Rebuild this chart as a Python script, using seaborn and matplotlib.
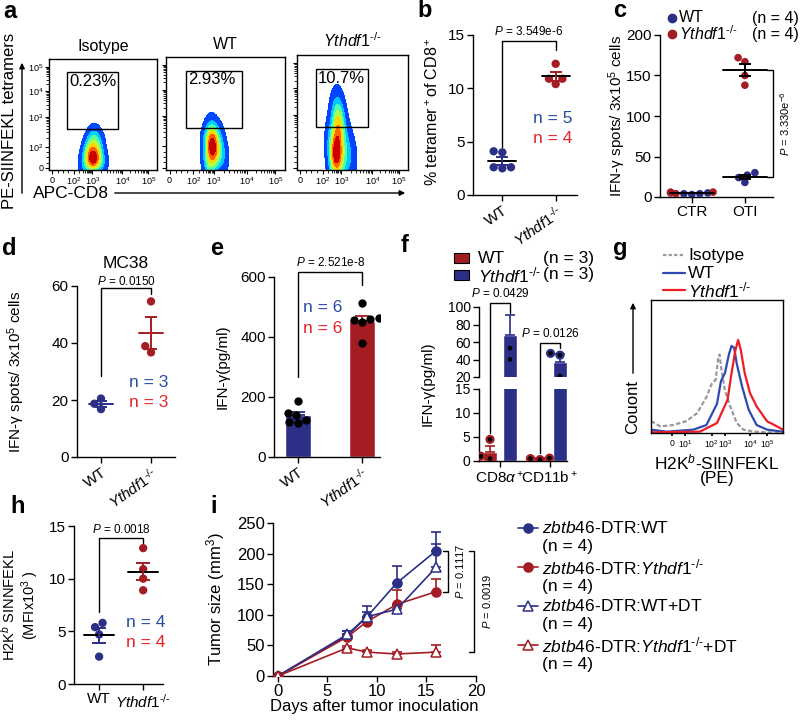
import numpy as np
import pandas as pd
import matplotlib
matplotlib.use('Agg')
import matplotlib.pyplot as plt
import seaborn as sns
from matplotlib.lines import Line2D
from matplotlib.patches import Rectangle, FancyArrowPatch
from matplotlib.ticker import FixedLocator
from matplotlib.colors import LinearSegmentedColormap

sns.set_theme(style='ticks')
plt.rcParams['font.family'] = ['Liberation Sans', 'DejaVu Sans']
plt.rcParams['mathtext.fontset'] = 'custom'
plt.rcParams['mathtext.rm'] = 'Liberation Sans'
plt.rcParams['mathtext.it'] = 'Liberation Sans:italic'
plt.rcParams['mathtext.bf'] = 'Liberation Sans:bold'
for k in ['xtick.color', 'ytick.color', 'axes.edgecolor', 'text.color', 'axes.labelcolor']:
    plt.rcParams[k] = 'black'
plt.rcParams['axes.linewidth'] = 1.0

NAVY = '#2b2f86'
DRED = '#a31d23'
NBLUE = '#2a4d9f'
NRED = '#e3262b'
LBLUE = '#2f4bb0'
LRED = '#ee1c24'
YTH = r'$\it{Ythdf1}^{‐/‐}$'
JET = LinearSegmentedColormap.from_list(
    'jet_cut', matplotlib.colormaps['jet'](np.linspace(0.13, 1.0, 256)))

# ---- data ----
# a: flow density (gated events, axis fractions) and gate percentages
flow_titles = ['Isotype', 'WT', YTH]
flow_pct = ['0.23%', '2.93%', '10.7%']
iso_x = [0.41, 0.40, 0.42, 0.39, 0.43, 0.41, 0.37, 0.45, 0.35, 0.47, 0.33, 0.49, 0.38, 0.44,
         0.40, 0.42, 0.36, 0.46, 0.41]
iso_y = [0.09, 0.07, 0.10, 0.12, 0.08, 0.04, 0.14, 0.13, 0.08, 0.10, 0.05, 0.06, 0.22, 0.20,
         0.28, 0.30, 0.18, 0.24, 0.16]
wt_x = [0.39, 0.38, 0.40, 0.39, 0.37, 0.41, 0.39, 0.35, 0.43, 0.40, 0.36, 0.46, 0.34, 0.42,
        0.38, 0.44, 0.37, 0.40, 0.48, 0.36]
wt_y = [0.22, 0.18, 0.25, 0.15, 0.20, 0.21, 0.28, 0.10, 0.14, 0.33, 0.06, 0.20, 0.25, 0.08,
        0.36, 0.30, 0.02, 0.12, 0.10, 0.30]
yth_x = [0.36, 0.35, 0.37, 0.36, 0.34, 0.38, 0.36, 0.32, 0.41, 0.37, 0.34, 0.45, 0.31, 0.38,
         0.36, 0.49, 0.35, 0.37, 0.36, 0.40, 0.43, 0.33, 0.39]
yth_y = [0.14, 0.11, 0.17, 0.20, 0.13, 0.09, 0.25, 0.18, 0.12, 0.32, 0.05, 0.22, 0.28, 0.38,
         0.44, 0.10, 0.48, 0.52, 0.02, 0.34, 0.06, 0.08, 0.41]
flow_labels = ['0', '$10^2$', '$10^3$', '$10^4$', '$10^5$']

# b
b_wt = [4.1, 4.0, 2.6, 2.5, 2.6]
b_yth = [12.3, 10.9, 10.9, 10.4]
# c
c_ctr_wt = [4, 3, 5, 4]
c_ctr_yth = [5, 6, 4, 6]
c_oti_wt = [30, 27, 24, 18]
c_oti_yth = [172, 167, 150, 138]
# d
d_wt = [20.5, 18.7, 16.8]
d_yth = [54.6, 38.9, 36.7]
# e
e_wt = [187, 148, 140, 125, 118, 113]
e_yth = [514, 462, 456, 450, 460, 380]
# f
f_cats = ['CD8', 'CD11b']
f_ticklabels = [r'CD8$\alpha^+$', r'CD11b$^+$']
f_wt_mean = [1.9, 0.4]
f_wt_err = [1.2, 0.3]
f_yth_mean = [68, 37]
f_yth_err = [23, 9]
f_wt_pts = [[4.5, 1.0, 0.5], [0.6, 0.3, 0.5]]
f_yth_pts = [[53, 40], [47, 45, 21]]
# g: histogram curves (axis fractions)
g_iso_x = [0.0, 0.07, 0.17, 0.27, 0.35, 0.42, 0.46, 0.49, 0.51, 0.52, 0.53, 0.56, 0.60, 0.65, 0.70, 0.78, 1.0]
g_iso_y = [0.09, 0.05, 0.06, 0.09, 0.15, 0.27, 0.37, 0.40, 0.57, 0.59, 0.50, 0.32, 0.20, 0.075, 0.025, 0.01, 0.0]
g_wt_x = [0.0, 0.12, 0.32, 0.42, 0.50, 0.53, 0.56, 0.59, 0.61, 0.63, 0.65, 0.69, 0.74, 0.80, 0.88, 1.0]
g_wt_y = [0.025, 0.01, 0.025, 0.06, 0.22, 0.39, 0.45, 0.59, 0.655, 0.64, 0.52, 0.35, 0.175, 0.06, 0.025, 0.01]
g_yth_x = [0.0, 0.37, 0.50, 0.58, 0.61, 0.64, 0.66, 0.68, 0.71, 0.75, 0.80, 0.88, 0.93, 1.0]
g_yth_y = [0.005, 0.01, 0.075, 0.25, 0.45, 0.625, 0.70, 0.625, 0.45, 0.30, 0.20, 0.0875, 0.0625, 0.025]
g_labels = ['0', '$10^1$', '$10^2$', '$10^3$', '$10^4$', '$10^5$']
# h
h_wt = [5.4, 5.8, 4.7, 2.6]
h_yth = [12.9, 10.9, 10.0, 8.9]
# i
i_days = [0, 7, 9, 12, 16]
i_wt = [0, 66, 97, 152, 205]
i_wt_err = [0, 8, 17, 27, 30]
i_yth = [0, 64, 89, 117, 138]
i_yth_err = [0, 4, 5, 23, 21]
i_wtdt = [0, 68, 97, 109, 178]
i_wtdt_err = [0, 5, 8, 6, 38]
i_ythdt = [0, 46, 39, 36, 39]
i_ythdt_err = [0, 3, 4, 4, 11]
i_names = [r'$\it{zbtb46}$-DTR:WT', r'$\it{zbtb46}$-DTR:' + YTH,
           r'$\it{zbtb46}$-DTR:WT+DT', r'$\it{zbtb46}$-DTR:' + YTH + '+DT']

W, H = 800, 720
fig = plt.figure(figsize=(8, 7.2), dpi=100)


def box(l, t, r, b):
    return fig.add_axes([l / W, 1 - b / H, (r - l) / W, (b - t) / H])


def ftext(x, y, s, **kw):
    fig.text(x / W, 1 - y / H, s, **kw)


def fline(xs, ys, **kw):
    fig.add_artist(Line2D([x / W for x in xs], [1 - y / H for y in ys],
                          transform=fig.transFigure, **kw))


def farrow(x0, y0, x1, y1):
    fig.add_artist(FancyArrowPatch((x0 / W, 1 - y0 / H), (x1 / W, 1 - y1 / H),
                                   transform=fig.transFigure, arrowstyle='-|>',
                                   mutation_scale=8, lw=1, color='black'))


def mean_sem(ax, x, vals, lcolor, ecolor, hw, cap, lw=1.4):
    v = np.asarray(vals, float)
    m = v.mean()
    s = v.std(ddof=1) / np.sqrt(len(v))
    ax.plot([x - hw, x + hw], [m, m], color=lcolor, lw=lw, zorder=5)
    ax.errorbar([x], [m], yerr=[[s], [s]], fmt='none', ecolor=ecolor,
                elinewidth=lw, capsize=cap, capthick=lw, zorder=5)


def bracket(ax, x1, x2, ytop, y1, y2, text, dy, size=8.5):
    ax.plot([x1, x1, x2, x2], [y1, ytop, ytop, y2], color='black', lw=1, clip_on=False)
    ax.text((x1 + x2) / 2, ytop + dy, text, ha='center', va='center', fontsize=size)


def style(ax, size=11):
    sns.despine(ax=ax)
    ax.tick_params(length=4, width=1, labelsize=size, pad=2)


def swarm2(ax, a, b, pal, size):
    df = pd.DataFrame({'g': ['A'] * len(a) + ['B'] * len(b), 'v': a + b})
    sns.swarmplot(data=df, x='g', y='v', hue='g', palette=pal, size=size,
                  ax=ax, legend=False, zorder=3)


# ---- panel labels ----
for lab, x, y in [('a', 3, 18), ('b', 417, 17), ('c', 613, 17), ('d', 2, 255), ('e', 210, 255),
                  ('f', 401, 252), ('g', 613, 255), ('h', 10, 513), ('i', 210, 513)]:
    ftext(x, y, lab, fontsize=17, weight='bold', va='baseline')

# ---- a ----
FX = [0.03, 0.23, 0.40, 0.68, 0.92]
FY = [0.02, 0.21, 0.48, 0.71, 0.93]
minx, miny = [], []
for i in range(1, 4):
    minx += [FX[i] + (FX[i + 1] - FX[i]) * np.log10(k) for k in range(2, 10)]
    miny += [FY[i] + (FY[i + 1] - FY[i]) * np.log10(k) for k in range(2, 10)]
minx += [FX[0] + (FX[1] - FX[0]) * k / 4 for k in (1, 2, 3)]
miny += [FY[0] + (FY[1] - FY[0]) * k / 4 for k in (1, 2, 3)]
flow_boxes = [(49, 59, 157, 170), (166, 57, 285, 170), (297, 55, 408, 170)]
flow_pts = [(iso_x, iso_y), (wt_x, wt_y), (yth_x, yth_y)]
for k, (bx, (px, py)) in enumerate(zip(flow_boxes, flow_pts)):
    ax = box(*bx)
    sns.kdeplot(x=px, y=py, ax=ax, fill=True, cmap=JET, levels=8, thresh=0.03, bw_adjust=1.4)
    ax.set_xlim(0, 1)
    ax.set_ylim(0, 1)
    ax.add_patch(Rectangle((0.17, 0.37), 0.47, 0.51, fill=False, lw=1, ec='black', zorder=4))
    ax.text(0.185, 0.76, flow_pct[k], fontsize=12, zorder=6)
    ax.set_xticks(FX)
    ax.set_xticklabels(flow_labels, fontsize=6.5)
    ax.set_yticks(FY)
    ax.set_yticklabels(flow_labels if k == 0 else [], fontsize=6.5)
    ax.xaxis.set_minor_locator(FixedLocator(minx))
    ax.yaxis.set_minor_locator(FixedLocator(miny))
    ax.tick_params(which='major', length=3, width=0.8, pad=1)
    ax.tick_params(which='minor', length=2, width=0.6)
    ax.set_xlabel('')
    ax.set_ylabel('')
    ax.set_title(flow_titles[k], fontsize=11.5, pad=6)
ftext(10, 121, 'PE-SIINFEKL tetramers', rotation=90, ha='center', va='center', fontsize=12)
farrow(22, 196, 22, 60)
ftext(33, 194, 'APC-CD8', va='center', fontsize=12.5)
farrow(112, 193, 408, 193)

# ---- b ----
ax = box(473, 35, 577, 195)
swarm2(ax, b_wt, b_yth, [NAVY, DRED], 6)
mean_sem(ax, 0, b_wt, 'black', NAVY, 0.26, 4.5)
mean_sem(ax, 1, b_yth, 'black', DRED, 0.26, 4.5)
ax.set_xlim(-0.55, 1.4)
ax.set_ylim(0, 15)
ax.set_yticks([0, 5, 10, 15])
ax.set_xticks([0, 1])
ax.set_xticklabels(['WT', YTH], rotation=35, ha='right', rotation_mode='anchor')
ax.set_xlabel('')
ax.set_ylabel(r'% tetramer$^+$of CD8$^+$', fontsize=11.5)
ax.yaxis.set_label_coords(-0.31, 0.52)
style(ax)
bracket(ax, 0, 1, 14.45, 4.5, 13.6, r'$\it{P}$ = 3.549e-6', 0.85)
ax.text(0.94, 7.2, 'n = 5', color=NBLUE, fontsize=12.5, ha='center', va='center')
ax.text(0.94, 5.3, 'n = 4', color=NRED, fontsize=12.5, ha='center', va='center')

# ---- c ----
ax = box(660, 35, 773, 197)
dfc = pd.DataFrame({
    'cat': ['CTR'] * 8 + ['OTI'] * 8,
    'g': ['WT'] * 4 + ['Y'] * 4 + ['WT'] * 4 + ['Y'] * 4,
    'v': c_ctr_wt + c_ctr_yth + c_oti_wt + c_oti_yth})
sns.swarmplot(data=dfc, x='cat', y='v', hue='g', hue_order=['WT', 'Y'], palette=[NAVY, DRED],
              size=5.5, ax=ax, legend=False, zorder=3)
mean_sem(ax, 0, c_ctr_wt + c_ctr_yth, 'black', 'black', 0.42, 0)
mean_sem(ax, 1, c_oti_wt, 'black', 'black', 0.42, 4.5)
mean_sem(ax, 1, c_oti_yth, 'black', 'black', 0.42, 4.5)
ax.set_xlim(-0.6, 1.53)
ax.set_ylim(0, 200)
ax.set_yticks([0, 50, 100, 150, 200])
ax.set_xticks([0, 1])
ax.set_xticklabels(['CTR', 'OTI'], fontsize=12)
ax.set_xlabel('')
ax.set_ylabel(r'IFN-γ spots/ 3x10$^5$ cells', fontsize=11)
ax.yaxis.set_label_coords(-0.28, 0.5)
style(ax)
m_hi = np.mean(c_oti_yth)
m_lo = np.mean(c_oti_wt)
ax.plot([1.42, 1.53, 1.53, 1.42], [m_hi, m_hi, m_lo, m_lo], color='black', lw=1, clip_on=False)
ax.text(1.76, (m_hi + m_lo) / 2, r'$\it{P}$ = 3.330e$^{-6}$', rotation=90, fontsize=8,
        ha='center', va='center')
for yy, col, lab in [(18, NAVY, 'WT'), (34, DRED, YTH)]:
    fig.add_artist(Line2D([672 / W], [1 - yy / H], marker='o', ms=6, color=col, mec=col,
                          transform=fig.transFigure))
    ftext(679, yy, lab, fontsize=11.5, va='center')
    ftext(752, yy, '(n = 4)', fontsize=11.5, va='center')

# ---- d ----
ax = box(77, 286, 175, 457)
swarm2(ax, d_wt, d_yth, [NAVY, DRED], 6)
mean_sem(ax, 0, d_wt, NAVY, NAVY, 0.24, 4)
mean_sem(ax, 1, d_yth, DRED, DRED, 0.24, 4)
ax.set_xlim(-0.48, 1.48)
ax.set_ylim(0, 60)
ax.set_yticks([0, 20, 40, 60])
ax.set_xticks([0, 1])
ax.set_xticklabels(['WT', YTH], rotation=35, ha='right', rotation_mode='anchor')
ax.set_xlabel('')
ax.set_ylabel(r'IFN-γ spots/ 3x10$^5$ cells', fontsize=11)
ax.yaxis.set_label_coords(-0.51, 0.5)
style(ax)
bracket(ax, 0, 1, 59.3, 28.5, 57.3, r'$\it{P}$ = 0.0150', 2.4)
ax.text(0.95, 26, 'n = 3', color=NBLUE, fontsize=12.5, ha='center', va='center')
ax.text(0.95, 19, 'n = 3', color=NRED, fontsize=12.5, ha='center', va='center')
ftext(126, 264, 'MC38', ha='center', va='center', fontsize=12.5)

# ---- e ----
ax = box(274, 277, 380, 457)
dfe = pd.DataFrame({'g': ['WT'] * len(e_wt) + ['Y'] * len(e_yth), 'v': e_wt + e_yth})
sns.barplot(data=dfe, x='g', y='v', hue='g', palette=[NAVY, DRED], width=0.41,
            errorbar=None, saturation=1, legend=False, ax=ax)
for x, vals, col in [(0, e_wt, NAVY), (1, e_yth, DRED)]:
    v = np.asarray(vals, float)
    ax.errorbar([x], [v.mean()], yerr=[[0], [v.std(ddof=1) / np.sqrt(len(v))]], fmt='none',
                ecolor=col, elinewidth=1.3, capsize=5, capthick=1.3, zorder=2)
sns.swarmplot(data=dfe, x='g', y='v', color='black', size=6, ax=ax, zorder=4)
ax.set_xlim(-0.375, 1.28)
ax.set_ylim(0, 600)
ax.set_yticks([0, 200, 400, 600])
ax.set_xticks([0, 1])
ax.set_xticklabels(['WT', YTH], rotation=35, ha='right', rotation_mode='anchor')
ax.set_xlabel('')
ax.set_ylabel('IFN-γ(pg/ml)', fontsize=11)
ax.yaxis.set_label_coords(-0.415, 0.5)
style(ax)
bracket(ax, 0, 1, 617, 267, 573, r'$\it{P}$ = 2.521e-8', 33)
ax.text(0.38, 497, 'n = 6', color=NBLUE, fontsize=12.5, ha='center', va='center')
ax.text(0.38, 427, 'n = 6', color=NRED, fontsize=12.5, ha='center', va='center')

# ---- f ----
f_top = box(479, 307, 567, 377)
f_bot = box(479, 389, 567, 461)
dff = pd.DataFrame({'cat': f_cats * 2, 'g': ['WT'] * 2 + ['Y'] * 2,
                    'v': f_wt_mean + f_yth_mean, 'e': f_wt_err + f_yth_err})
rows = []
for c, pts in zip(f_cats, f_wt_pts):
    rows += [(c, 'WT', p) for p in pts]
for c, pts in zip(f_cats, f_yth_pts):
    rows += [(c, 'Y', p) for p in pts]
dfp = pd.DataFrame(rows, columns=['cat', 'g', 'v'])
for ax, lo, hi in [(f_top, 20, 100), (f_bot, 0, 15)]:
    sns.barplot(data=dff, x='cat', y='v', hue='g', order=f_cats, hue_order=['WT', 'Y'],
                palette=[DRED, NAVY], width=0.8, gap=0.3, errorbar=None, saturation=1,
                legend=False, ax=ax)
    for p, m, e, col in zip(ax.patches[:4], dff['v'], dff['e'], [DRED, DRED, NAVY, NAVY]):
        ax.errorbar([p.get_x() + p.get_width() / 2], [m], yerr=[[0], [e]], fmt='none',
                    ecolor=col, elinewidth=1.2, capsize=3.5, capthick=1.2, zorder=2)
    sub = dfp[(dfp['v'] >= lo) & (dfp['v'] <= hi)]
    n_before = len(ax.collections)
    sns.swarmplot(data=sub, x='cat', y='v', hue='g', order=f_cats, hue_order=['WT', 'Y'],
                  palette=[DRED, NAVY], dodge=True, size=5, linewidth=1.6,
                  legend=False, ax=ax, zorder=4)
    # coloured ring with a dark centre, as in the reference
    for coll in ax.collections[n_before:]:
        fc = coll.get_facecolors()
        if len(fc):
            coll.set_edgecolors(fc)
            coll.set_facecolors('black')
    ax.set_xlim(-0.42, 1.34)
    ax.set_ylim(lo, hi)
    ax.set_xlabel('')
    ax.set_ylabel('')
    style(ax, 10)
f_top.set_yticks([20, 40, 60, 80, 100])
f_top.spines['bottom'].set_visible(False)
f_top.tick_params(axis='x', bottom=False, labelbottom=False)
f_bot.set_yticks([0, 5, 10, 15])
f_bot.set_xticks([0, 1])
f_bot.set_xticklabels(f_ticklabels, fontsize=11)
ftext(428, 384, 'IFN-γ(pg/ml)', rotation=90, ha='center', va='center', fontsize=11)


def to_px(ax, x, y):
    d = ax.transData.transform((x, y))
    return d[0], H - d[1]


bars = f_top.patches[:4]
bx = [p.get_x() + p.get_width() / 2 for p in bars]
for (x1, x2, ytop, ax1, y1, ax2, y2, txt) in [
        (bx[0], bx[2], 104.6, f_bot, 5.8, f_top, 93, r'$\it{P}$ = 0.0429'),
        (bx[1], bx[3], 58.9, f_bot, 1.7, f_top, 53, r'$\it{P}$ = 0.0126')]:
    _, ty = to_px(f_top, x1, ytop)
    px1, py1 = to_px(ax1, x1, y1)
    px2, py2 = to_px(ax2, x2, y2)
    fline([px1, px1, px2, px2], [py1, ty, ty, py2], color='black', lw=1)
    ftext((px1 + px2) / 2, ty - 9, txt, ha='center', va='center', fontsize=8.5)
for yy, col, lab in [(258, DRED, 'WT'), (275, NAVY, YTH)]:
    fig.add_artist(Rectangle((454 / W, 1 - (yy + 5) / H), 15 / W, 10 / H, fc=col, ec='black',
                             lw=0.8, transform=fig.transFigure))
    ftext(478, yy, lab, fontsize=12.5, va='center')
    ftext(543, yy, '(n = 3)', fontsize=12.5, va='center')

# ---- g ----
ax = box(651, 300, 783, 433)
sns.lineplot(x=g_iso_x, y=g_iso_y, ax=ax, color='#9a9a9a', lw=1.6, linestyle=(0, (2, 1)))
sns.lineplot(x=g_wt_x, y=g_wt_y, ax=ax, color=LBLUE, lw=1.6)
sns.lineplot(x=g_yth_x, y=g_yth_y, ax=ax, color=LRED, lw=1.6)
ax.set_xlim(0, 1)
ax.set_ylim(0, 1)
ax.set_yticks([])
ax.set_xticks([0.16, 0.26, 0.46, 0.56, 0.75, 0.88])
ax.set_xticklabels(g_labels, fontsize=6.2)
ax.tick_params(axis='x', length=2, pad=2)
ftext(633, 407, 'Couont', rotation=90, ha='center', va='center', fontsize=12)
farrow(633, 376, 633, 300)
ftext(717, 462, r'H2K$^b$-SIINFEKL', ha='center', va='center', fontsize=12.5)
ftext(717, 479, '(PE)', ha='center', va='center', fontsize=12.5)
for yy, col, ls, lab in [(255, '#9a9a9a', (0, (1.5, 1)), 'Isotype'), (273, LBLUE, '-', 'WT'),
                         (290, LRED, '-', YTH)]:
    fline([663, 685], [yy, yy], color=col, lw=1.6, linestyle=ls)
    ftext(688, yy, lab, fontsize=12.5, va='center')

# ---- h ----
ax = box(74, 526, 163, 684)
swarm2(ax, h_wt, h_yth, [NAVY, DRED], 6)
mean_sem(ax, 0, h_wt, 'black', NAVY, 0.34, 5)
mean_sem(ax, 1, h_yth, 'black', DRED, 0.34, 5)
ax.set_xlim(-0.57, 1.45)
ax.set_ylim(0, 15)
ax.set_yticks([0, 5, 10, 15])
ax.set_xticks([0, 1])
ax.set_xticklabels(['WT', YTH], fontsize=12)
ax.set_xlabel('')
ax.set_ylabel('H2K$^b$ SINNFEKL\n(MFIx10$^3$ )', fontsize=10.5, linespacing=1.1)
ax.yaxis.set_label_coords(-0.37, 0.5)
style(ax)
bracket(ax, 0, 1, 13.9, 6.8, 13.4, r'$\it{P}$ = 0.0018', 0.8)
ax.text(1.05, 5.8, 'n = 4', color=NBLUE, fontsize=12.5, ha='center', va='center')
ax.text(1.05, 3.9, 'n = 4', color=NRED, fontsize=12.5, ha='center', va='center')

# ---- i ----
ax = box(273, 523, 476, 676)
series = [(i_wt, i_wt_err, NAVY, 'o', NAVY), (i_yth, i_yth_err, DRED, 'o', DRED),
          (i_wtdt, i_wtdt_err, NAVY, '^', 'white'), (i_ythdt, i_ythdt_err, DRED, '^', 'white')]
zeros = [0] * len(i_days)
for vals, err, col, mk, fc in series:
    ax.errorbar(i_days, vals, yerr=[zeros, err], fmt='none', ecolor=col, elinewidth=1.2,
                capsize=3.5, capthick=1.2, zorder=2)
    sns.lineplot(x=i_days, y=vals, ax=ax, color=col, lw=1.2, marker=mk, markersize=6.5,
                 markerfacecolor=fc, markeredgecolor=col, markeredgewidth=1.1, zorder=3)
ax.set_xlim(-0.5, 20)
ax.set_ylim(0, 250)
ax.set_xticks([0, 5, 10, 15, 20])
ax.set_yticks([0, 50, 100, 150, 200, 250])
ax.set_xlabel('Days after tumor inoculation', fontsize=12, labelpad=0)
ax.set_ylabel(r'Tumor size (mm$^3$)', fontsize=12)
ax.yaxis.set_label_coords(-0.227, 0.5)
style(ax, 12)
for xv, xt, xtx, ylo, txt in [(17.2, 16.7, 18.4, i_yth[-1], r'$\it{P}$ = 0.1117'),
                              (19.8, 19.3, 21.1, i_ythdt[-1], r'$\it{P}$ = 0.0019')]:
    ax.plot([xt, xv, xv, xt], [i_wt[-1], i_wt[-1], ylo, ylo], color='black', lw=1, clip_on=False)
    ax.text(xtx, (i_wt[-1] + ylo) / 2, txt, rotation=90, fontsize=8, ha='center', va='center')
for k, (vals, err, col, mk, fc) in enumerate(series):
    yy = 528 + k * 39
    fline([518, 538], [yy, yy], color=col, lw=1.2)
    fig.add_artist(Line2D([528 / W], [1 - yy / H], marker=mk, ms=6.5, mfc=fc, mec=col, mew=1.1,
                          transform=fig.transFigure))
    ftext(542, yy, i_names[k], fontsize=12.5, va='center')
    ftext(542, yy + 19, '(n = 4)', fontsize=12.5, va='center')

fig.savefig('out.png', dpi=100)
